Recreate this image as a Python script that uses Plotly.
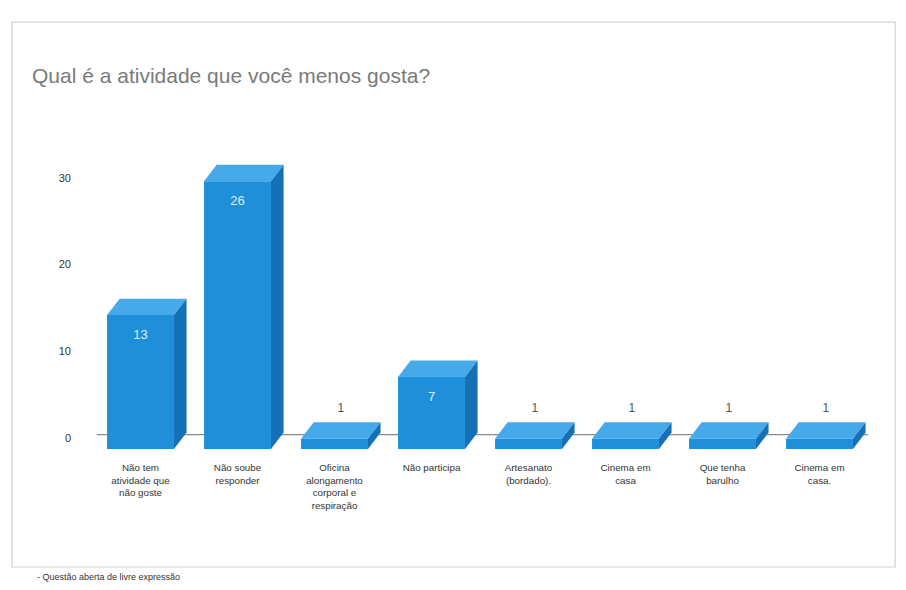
import plotly.graph_objects as go

categories = [
    "Não tem<br>atividade que<br>não goste",
    "Não soube<br>responder",
    "Oficina<br>alongamento<br>corporal e<br>respiração",
    "Não participa",
    "Artesanato<br>(bordado).",
    "Cinema em<br>casa",
    "Que tenha<br>barulho",
    "Cinema em<br>casa.",
]
values = [13, 26, 1, 7, 1, 1, 1, 1]
y_ticks = [0, 10, 20, 30]

FRONT = "#1f8fd9"
TOP = "#45a9ea"
SIDE = "#1670b6"
HW = 0.345   # half bar width (category units)
DX = 0.13    # depth offset x (category units)
DY = 1.6     # depth offset y (value units)

fig = go.Figure()
xs = list(range(len(categories)))

# front faces
fig.add_trace(go.Bar(x=xs, y=values, width=2 * HW, marker=dict(color=FRONT, line=dict(width=0)),
                     showlegend=False, hoverinfo="skip"))

# top and side faces computed from data
for i, v in zip(xs, values):
    fig.add_trace(go.Scatter(
        x=[i - HW, i + HW, i + HW + DX, i - HW + DX, i - HW],
        y=[v, v, v + DY, v + DY, v],
        fill="toself", fillcolor=TOP, mode="lines", line=dict(width=0, color=TOP),
        hoverinfo="skip", showlegend=False))
    fig.add_trace(go.Scatter(
        x=[i + HW, i + HW + DX, i + HW + DX, i + HW, i + HW],
        y=[0, DY, v + DY, v, 0],
        fill="toself", fillcolor=SIDE, mode="lines", line=dict(width=0, color=SIDE),
        hoverinfo="skip", showlegend=False))

# value labels
in_x, in_y, in_t, out_x, out_y, out_t = [], [], [], [], [], []
for i, v in zip(xs, values):
    if v >= 5:
        in_x.append(i); in_y.append(v - 2.0); in_t.append(str(v))
    else:
        out_x.append(i + DX / 2); out_y.append(v + DY + 1.3); out_t.append(str(v))
fig.add_trace(go.Scatter(x=in_x, y=in_y, text=in_t, mode="text",
                         textfont=dict(color="#dceefa", size=13, family="Liberation Sans"),
                         hoverinfo="skip", showlegend=False))
fig.add_trace(go.Scatter(x=out_x, y=out_y, text=out_t, mode="text",
                         textfont=dict(color="#555555", size=12, family="Liberation Sans"),
                         hoverinfo="skip", showlegend=False))

# back-wall value scale (3D perspective) carries the tick labels
fig.add_trace(go.Scatter(x=[xs[0]], y=[0], yaxis="y2", mode="markers",
                         marker=dict(opacity=0), hoverinfo="skip", showlegend=False))

fig.update_layout(
    width=898, height=582,
    margin=dict(l=84, r=38, t=132, b=139),
    paper_bgcolor="white", plot_bgcolor="white",
    font=dict(family="Liberation Sans", color="#333333"),
    xaxis=dict(range=[-0.5, 7.5], tickmode="array", tickvals=xs, ticktext=categories,
               tickfont=dict(size=9.8, color="#333333"), showgrid=False, zeroline=False,
               showline=False, ticks="", tickangle=0, ticklabelstandoff=9),
    yaxis=dict(range=[-0.19, 30], showticklabels=False, showgrid=False, zeroline=False,
               showline=False, ticks=""),
    yaxis2=dict(range=[-1.5, 34.38], overlaying="y", side="left", tickmode="array",
                tickvals=y_ticks, tickfont=dict(size=11, color="#333333"), showgrid=False,
                zeroline=False, showline=False, ticks="", ticklabelstandoff=20),
    shapes=[
        dict(type="rect", xref="paper", yref="paper", x0=-0.103, x1=1.035, y0=-0.373, y1=1.379,
             line=dict(color="#d6cfd2", width=1.2)),
        dict(type="line", xref="x", yref="y", x0=-0.45, x1=7.7, y0=1.4, y1=1.4,
             line=dict(color="#8a8a8a", width=1.2), layer="below"),
    ],
    annotations=[
        dict(text="Qual é a atividade que você menos gosta?", xref="paper", yref="paper",
             x=-0.080, y=1.209, xanchor="left", yanchor="middle", showarrow=False,
             font=dict(size=21, color="#7a7a7a", family="Liberation Sans")),
        dict(text="- Questão aberta de livre expressão", xref="paper", yref="paper",
             x=-0.073, y=-0.405, xanchor="left", yanchor="middle", showarrow=False,
             font=dict(size=9, color="#333333", family="Liberation Sans")),
    ],
)

fig.write_html("out.html")
